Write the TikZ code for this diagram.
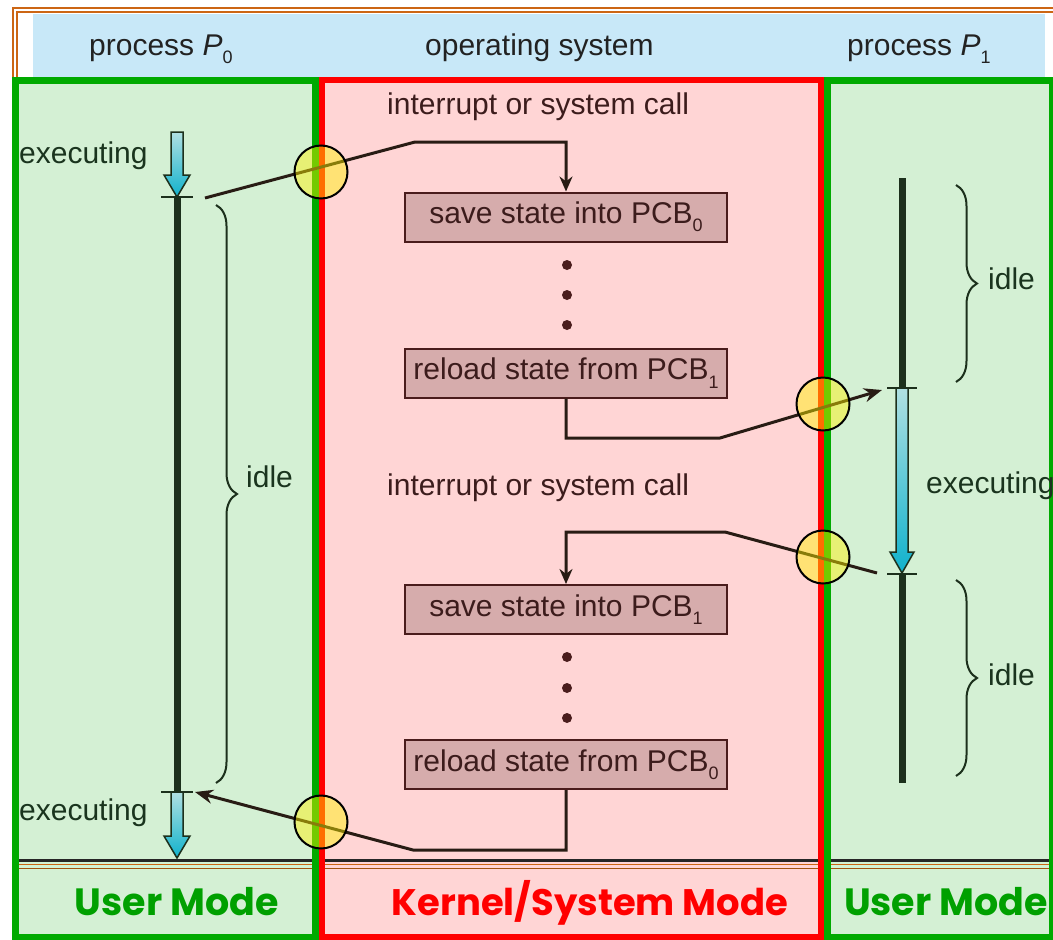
\documentclass[tikz,border=0pt]{standalone}
\usepackage{fontspec}
\setmainfont{Liberation Sans}
\newfontfamily\modefont{Poppins}
\usetikzlibrary{arrows.meta,decorations.pathreplacing}
\definecolor{greenfill}{RGB}{212,240,212}
\definecolor{pinkfill}{RGB}{255,213,213}
\definecolor{bluefill}{RGB}{200,232,248}
\definecolor{boxfill}{RGB}{214,172,172}
\definecolor{boxline}{RGB}{74,28,28}
\definecolor{greenline}{RGB}{0,170,0}
\definecolor{redline}{RGB}{255,0,0}
\definecolor{orangeline}{RGB}{204,102,20}
\definecolor{darkline}{RGB}{40,28,20}
\definecolor{tlc}{RGB}{28,48,28}
\definecolor{txtc}{RGB}{34,34,34}
\definecolor{gtxt}{RGB}{26,52,30}
\definecolor{btxt}{RGB}{60,28,28}
\definecolor{arrtop}{RGB}{176,224,226}
\definecolor{arrbot}{RGB}{16,178,204}
\definecolor{modegreen}{RGB}{0,160,0}
\newcommand{\sbx}[1]{\raisebox{-0.28em}{\fontsize{18}{18}\selectfont #1}}
\begin{document}
\begin{tikzpicture}[x=1pt,y=-1pt,
  txt/.style={font=\fontsize{30}{36}\selectfont, text=txtc, inner sep=0pt, anchor=base west},
  gtx/.style={txt, text=gtxt},
  pcb/.style={draw=boxline, line width=2pt, fill=boxfill, minimum width=322pt, minimum height=49pt, inner sep=0pt, font=\fontsize{30}{36}\selectfont, text=btxt},
  conn/.style={draw=darkline, line width=3pt},
  tipa/.style={-{Stealth[length=15pt,width=13pt]}},
  circ/.style={circle, minimum size=53pt, inner sep=0pt, draw=black, line width=2pt, fill=yellow, fill opacity=0.45, draw opacity=1},
  tline/.style={draw=tlc, line width=7pt},
  tick/.style={draw=tlc, line width=2pt},
  cyarrow/.style={draw=tlc, line width=1.5pt, top color=arrtop, bottom color=arrbot},
  brc/.style={draw=tlc, line width=2pt, decorate, decoration={brace, amplitude=21pt}},
  modelbl/.style={inner sep=0pt, anchor=base}
]
\useasboundingbox (0,0) rectangle (1053,940);
\clip (0,0) rectangle (1053,940);

% outer orange frame
\draw[orangeline, line width=1.6pt] (13,100) -- (13,8) -- (1053,8);
\draw[orangeline, line width=1.6pt] (17,100) -- (17,12) -- (1053,12);
% blue header
\fill[bluefill] (33,14) rectangle (1045,78);

% region fills
\fill[greenfill] (15,80) rectangle (318,937);
\fill[pinkfill] (318,80) rectangle (824,937);
\fill[greenfill] (824,80) rectangle (1053,937);

% bottom separator lines
\draw[black!85, line width=3pt] (15,860.5) -- (1053,860.5);
\draw[orangeline, line width=1.5pt] (15,864.5) -- (1053,864.5);
\draw[orangeline!80!black, line width=1.5pt] (15,868.5) -- (1053,868.5);

% region borders
\draw[greenline, line width=7pt] (15,80) rectangle (315,937);
\draw[redline, line width=6pt] (322,80) rectangle (821,937);
\draw[greenline, line width=7pt] (827,80) rectangle (1052,937);

% header texts
\node[txt] (h0) at (89,55) {process \textit{P}\sbx{0}};
\node[txt] (hos) at (425,55) {operating system};
\node[txt] (h1) at (847,55) {process \textit{P}\sbx{1}};

% kernel texts and boxes
\node[txt, text=btxt] (irq1) at (387,114) {interrupt or system call};
\node[txt, text=btxt] (irq2) at (387,495) {interrupt or system call};
\node[pcb] (s0) at (566,217) {save state into PCB\sbx{0}};
\node[pcb] (r1) at (566,373) {reload state from PCB\sbx{1}};
\node[pcb] (s1) at (566,609.5) {save state into PCB\sbx{1}};
\node[pcb] (r0) at (566,764.5) {reload state from PCB\sbx{0}};
\foreach \yy in {265,295,325,657,688,718} \fill[boxline] (567,\yy) circle (5pt);

% process P0 timeline
\draw[tline] (177,197) -- (177,792);
\draw[tick] (161,197) -- (193,197);
\draw[tick] (161,792) -- (193,792);
\draw[cyarrow] (171,132) -- (183,132) -- (183,175) -- (190,175) -- (177,197) -- (164,175) -- (171,175) -- cycle;
\draw[cyarrow] (171,792) -- (183,792) -- (183,836) -- (190,836) -- (177,858) -- (164,836) -- (171,836) -- cycle;
\draw[brc] (216,205) -- (216,783);
\node[gtx] (ex0a) at (19,163) {executing};
\node[gtx] (ex0b) at (19,820) {executing};
\node[gtx] (id0) at (246,487) {idle};

% process P1 timeline
\draw[tline] (902,178) -- (902,388);
\draw[tline] (902,574) -- (902,783);
\draw[cyarrow] (896,388) -- (908,388) -- (908,552) -- (914,552) -- (902,573) -- (890,552) -- (896,552) -- cycle;
\draw[tick] (887,388) -- (917,388);
\draw[tick] (887,574) -- (917,574);
\draw[brc] (956,185) -- (956,382);
\draw[brc] (956,580) -- (956,776);
\node[gtx] (ex1) at (926,493) {executing};
\node[gtx] (id1a) at (988,289) {idle};
\node[gtx] (id1b) at (988,685) {idle};

% connectors
\coordinate (a1) at (205,198);
\coordinate (b1) at (415,142);
\draw[conn, tipa] (a1) -- (b1) -| (s0.north);
\coordinate (b2) at (720,438);
\coordinate (a2) at (882,390);
\draw[conn, -{Stealth[length=18pt,width=14pt]}] (r1.south) |- (b2) -- (a2);
\coordinate (a3) at (877,573);
\coordinate (b3) at (725,532);
\draw[conn, tipa] (a3) -- (b3) -| (s1.north);
\coordinate (b4) at (413,850);
\coordinate (a4) at (195,792);
\draw[conn, -{Stealth[length=18pt,width=14pt]}] (r0.south) |- (b4) -- (a4);

% transition circles
\node[circ] (c1) at (321,172) {};
\node[circ] (c2) at (823,404) {};
\node[circ] (c3) at (823,557) {};
\node[circ] (c4) at (321,822) {};

% mode labels
\node[modelbl, text=modegreen] (um0) at (177,915) {\resizebox{204pt}{!}{\modefont\bfseries User Mode}};
\node[modelbl, text=redline] (km) at (590,915) {\resizebox{396pt}{!}{\modefont\bfseries Kernel/System Mode}};
\node[modelbl, text=modegreen] (um1) at (946,915) {\resizebox{204pt}{!}{\modefont\bfseries User Mode}};
\end{tikzpicture}
\end{document}
